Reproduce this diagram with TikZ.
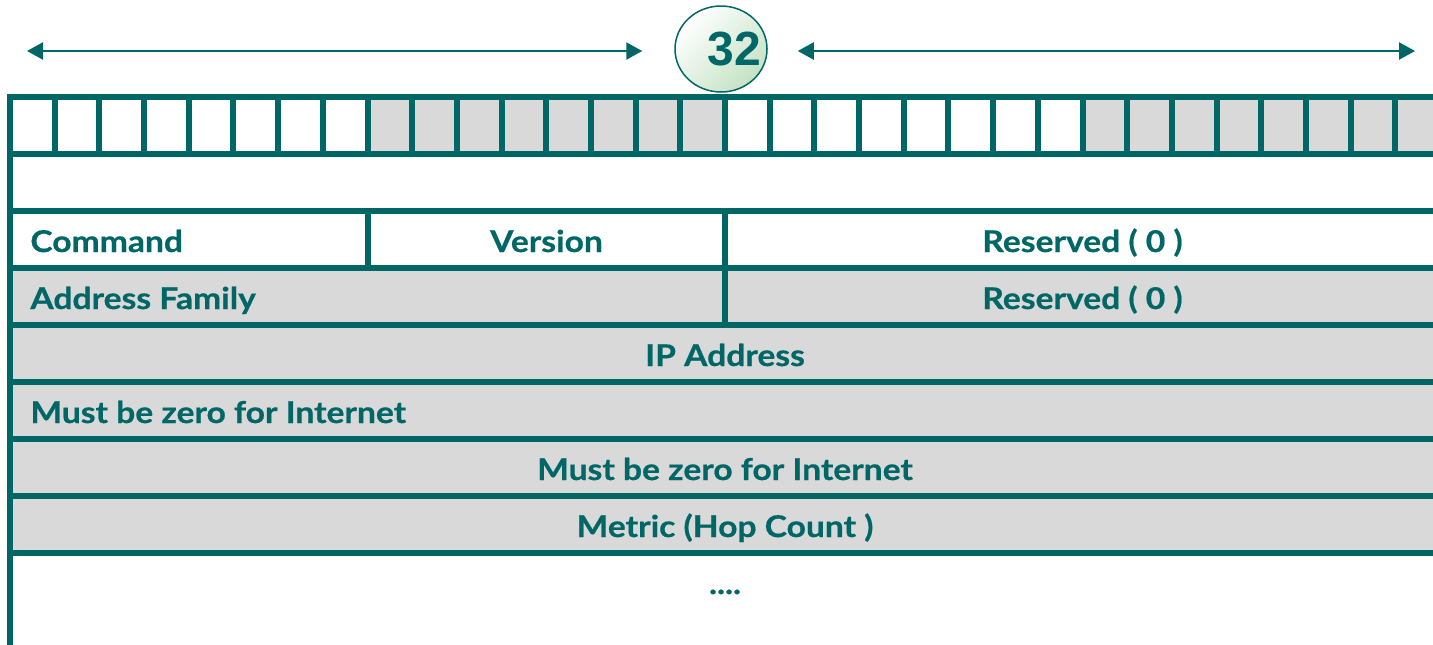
\documentclass[tikz,border=0pt]{standalone}
\usepackage{fontspec}
\setmainfont{Lato}[BoldFeatures={FakeStretch=1.12,FakeBold=0.6}]
\newfontfamily\numfont{Liberation Sans}
\usetikzlibrary{arrows.meta,shapes.geometric}
\definecolor{frame}{HTML}{006666}
\definecolor{cellgray}{HTML}{D9D9D9}
\definecolor{palegreen}{RGB}{196,226,196}

\begin{document}
\begin{tikzpicture}[x=0.5pt, y=-0.5pt,
    field/.style={text=frame, font=\bfseries\fontsize{15}{18}\selectfont, inner sep=0pt, anchor=base},
    rule/.style={draw=frame, line width=3pt, line cap=rect},
    span/.style={draw=frame, line width=1.1pt, {Triangle[length=8pt,width=8.5pt]}-{Triangle[length=8pt,width=8.5pt]}}]
    \clip (0,0) rectangle (1433,644);

    % bit width marker
    \node[ellipse, draw=frame, line width=0.75pt, minimum width=46pt, minimum height=43pt,
          top color=white, bottom color=palegreen, shading angle=45] (width) at (721,49) {};
    \node[text=frame, font=\numfont\bfseries\fontsize{24}{28}\selectfont] (num) at (734,49) {32};
    \coordinate (lend) at (27,51);
    \coordinate (rend) at (1415,51);
    \draw[span] (lend) -- ([xshift=-16pt]width.west |- lend);
    \draw[span] ([xshift=15pt]width.east |- rend) -- (rend);

    % shaded fields
    \fill[cellgray] (367.5,97) rectangle (725,154);
    \fill[cellgray] (1082.5,97) rectangle (1440,154);
    \fill[cellgray] (10,268) rectangle (1440,553);

    % bit cells
    \foreach \i in {1,...,31}
        \draw[rule] ({10+\i*44.6875},97) -- ({10+\i*44.6875},154);

    % rows
    \foreach \y in {97,154,...,553}
        \draw[rule] (10,\y) -- (1440,\y);
    \draw[rule] (10,97) -- (10,650);
    \draw[rule] (368,211) -- (368,268);
    \draw[rule] (725,211) -- (725,325);

    % field names
    \node[field, anchor=base west] (cmd) at (30,252) {Command};
    \node[field] (ver) at (546.5,252) {Version};
    \node[field] (res1) at (1082.5,252) {Reserved ( 0 )};
    \node[field, anchor=base west] (fam) at (30,309) {Address Family};
    \node[field] (res2) at (1082.5,309) {Reserved ( 0 )};
    \node[field] (ip) at (725,366) {IP Address};
    \node[field, anchor=base west] (zero1) at (30,423) {Must be zero for Internet};
    \node[field] (zero2) at (725,480) {Must be zero for Internet};
    \node[field] (metric) at (725,537) {Metric (Hop Count )};
    \node[field] (more) at (725,594) {....};
\end{tikzpicture}
\end{document}
